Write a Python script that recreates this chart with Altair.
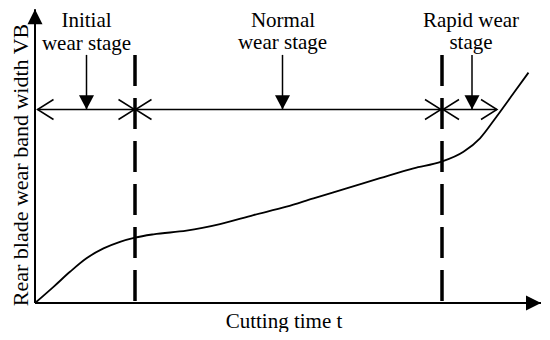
import altair as alt
import pandas as pd

# ---- data ----
curve_t = [0.0, 3.7, 7.0, 10.3, 13.7, 17.0, 20.0, 23.7, 30.3, 37.0, 43.7, 50.3,
           55.7, 62.3, 69.0, 75.7, 81.3, 85.7, 89.0, 92.3, 95.7, 98.7]
curve_vb = [0.0, 5.4, 10.4, 14.9, 18.2, 20.4, 21.8, 22.9, 24.1, 26.3, 29.3, 32.1,
            34.9, 38.2, 41.6, 44.9, 47.1, 50.4, 54.9, 62.1, 69.9, 76.8]

stage_bounds = [20.0, 81.4]          # dashed boundaries between stages
span_start = [0.5, 20.1, 81.6]       # double arrows
span_end = [19.9, 81.2, 92.4]
span_level = 64.5
pointer_t = [10.3, 49.5, 87.4]       # downward pointers
pointer_top = 82.7

label_text = ["Initial", "wear stage", "Normal", "wear stage", "Rapid wear", "stage"]
label_t = [10.3, 10.3, 49.6, 49.5, 87.2, 87.2]
label_vb = [92.0, 84.3, 92.0, 84.7, 92.0, 84.7]

x_title = "Cutting time t"
y_title = "Rear blade wear band width VB"

x_axis_end = 101.2
y_axis_end = 97.9

# ---- layout ----
W, H = 534, 324
PX_T, PX_V = 5.0, 3.0          # pixels per unit
X0, Y0 = 27.0, 295.0           # origin inside the svg
xs = alt.Scale(domain=[-X0 / PX_T, (W - X0) / PX_T], nice=False, zero=False)
ys = alt.Scale(domain=[(Y0 - H) / PX_V, Y0 / PX_V], nice=False, zero=False)
FONT = "Liberation Serif"
FS = 21


def X(f):
    return alt.X(f, type="quantitative", scale=xs, axis=None)


def Y(f):
    return alt.Y(f, type="quantitative", scale=ys, axis=None)


curve_df = pd.DataFrame({"t": curve_t, "vb": curve_vb})
bounds_df = pd.DataFrame({"t": stage_bounds, "top": [pointer_top] * 2, "bot": [0.0] * 2})
span_df = pd.DataFrame({"a": span_start, "b": span_end, "v": [span_level] * 3})
left_heads = pd.DataFrame({"t": span_start, "v": [span_level] * 3})
right_heads = pd.DataFrame({"t": span_end, "v": [span_level] * 3})
ptr_df = pd.DataFrame({"t": pointer_t, "top": [pointer_top] * 3, "bot": [span_level] * 3})
label_df = pd.DataFrame({"t": label_t, "v": label_vb, "txt": label_text})
axes_df = pd.DataFrame({"t": [0.0, 0.0], "v": [0.0, 0.0], "t2": [x_axis_end, 0.0], "v2": [0.0, y_axis_end]})
xtip_df = pd.DataFrame({"t": [x_axis_end], "v": [0.0]})
ytip_df = pd.DataFrame({"t": [0.0], "v": [y_axis_end]})
xt_df = pd.DataFrame({"t": [49.8], "v": [-8.3], "txt": [x_title]})
yt_df = pd.DataFrame({"t": [-1.5], "v": [46.0], "txt": [y_title]})

black = "#000000"

axes = alt.Chart(axes_df).mark_rule(color=black, strokeWidth=2).encode(
    x=X("t"), y=Y("v"), x2="t2", y2="v2")
xtip = alt.Chart(xtip_df).mark_point(shape="M-2,-1L0,0L-2,1Z", size=225, filled=True,
                                     color=black, opacity=1, strokeWidth=0).encode(x=X("t"), y=Y("v"))
ytip = alt.Chart(ytip_df).mark_point(shape="M-1,2L0,0L1,2Z", size=225, filled=True,
                                     color=black, opacity=1, strokeWidth=0).encode(x=X("t"), y=Y("v"))

curve = alt.Chart(curve_df).mark_line(color=black, strokeWidth=1.8, interpolate="monotone").encode(
    x=X("t"), y=Y("vb"))

bounds = alt.Chart(bounds_df).mark_rule(color=black, strokeWidth=3.5, strokeDash=[31, 12]).encode(
    x=X("t"), y=Y("top"), y2="bot")

spans = alt.Chart(span_df).mark_rule(color=black, strokeWidth=1.5).encode(
    x=X("a"), x2="b", y=Y("v"))
lh = alt.Chart(left_heads).mark_point(shape="M1,-0.625L0,0L1,0.625", size=1024, filled=False,
                                      color=black, opacity=1, strokeWidth=1.5).encode(x=X("t"), y=Y("v"))
rh = alt.Chart(right_heads).mark_point(shape="M-1,-0.625L0,0L-1,0.625", size=1024, filled=False,
                                       color=black, opacity=1, strokeWidth=1.5).encode(x=X("t"), y=Y("v"))

ptr = alt.Chart(ptr_df).mark_rule(color=black, strokeWidth=1.5).encode(
    x=X("t"), y=Y("top"), y2="bot")
ptr_head = alt.Chart(ptr_df).mark_point(shape="M-1,-1.9L1,-1.9L0,0Z", size=225, filled=True,
                                        color=black, opacity=1, strokeWidth=0).encode(x=X("t"), y=Y("bot"))

labels = alt.Chart(label_df).mark_text(font=FONT, fontSize=FS, color=black, align="center",
                                       baseline="alphabetic").encode(x=X("t"), y=Y("v"), text="txt")
xt = alt.Chart(xt_df).mark_text(font=FONT, fontSize=FS, color=black, align="center",
                                baseline="alphabetic").encode(x=X("t"), y=Y("v"), text="txt")
yt = alt.Chart(yt_df).mark_text(font=FONT, fontSize=22, color=black, align="center",
                                baseline="alphabetic", angle=270).encode(x=X("t"), y=Y("v"), text="txt")

chart = alt.layer(bounds, curve, spans, lh, rh, ptr, ptr_head, axes, xtip, ytip, labels, xt, yt).properties(
    width=W, height=H, padding=0, autosize=alt.AutoSizeParams(type="none"), background="white"
).configure_view(stroke=None)

chart.save("out.html", embed_options={"renderer": "svg", "actions": False})
